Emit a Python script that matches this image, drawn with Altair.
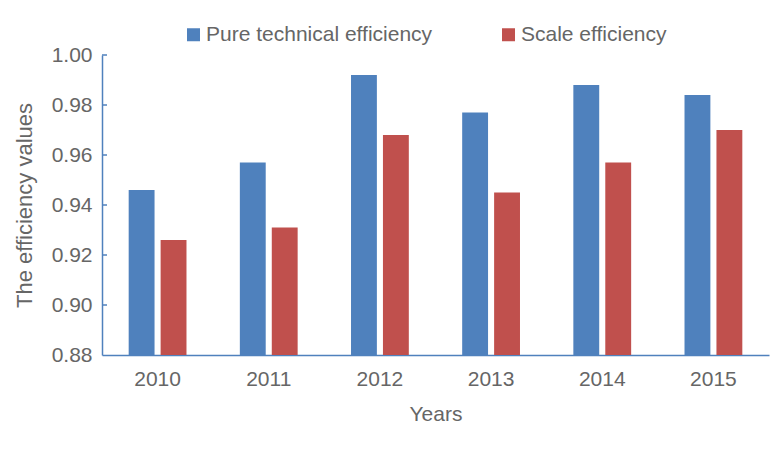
import altair as alt
import pandas as pd

years = ["2010", "2011", "2012", "2013", "2014", "2015"]
pure_technical = [0.946, 0.957, 0.992, 0.977, 0.988, 0.984]
scale_eff = [0.926, 0.931, 0.968, 0.945, 0.957, 0.970]
series_names = ["Pure technical efficiency", "Scale efficiency"]
series_colors = ["#4f81bd", "#c0504d"]
y_ticks = [0.88, 0.90, 0.92, 0.94, 0.96, 0.98, 1.00]

rows = []
for i, yr in enumerate(years):
    rows.append({"year": yr, "series": series_names[0], "value": pure_technical[i]})
    rows.append({"year": yr, "series": series_names[1], "value": scale_eff[i]})
df = pd.DataFrame(rows)
ticks_df = pd.DataFrame({"value": y_ticks[1:]})

FONT = "Liberation Sans"
GRAY = "#666666"
AXIS_BLUE = "#4f81bd"

yscale = alt.Scale(domain=[0.88, 1.0], zero=False, nice=False)
y_axis = alt.Axis(title="The efficiency values", values=y_ticks, format=".2f", grid=False,
                  ticks=False, domainColor=AXIS_BLUE, domainWidth=1.5,
                  labelFontSize=21, labelColor=GRAY, labelFont=FONT, labelPadding=10,
                  titleFontSize=22, titleColor=GRAY, titleFont=FONT,
                  titleFontWeight="normal", titlePadding=15)

bars = alt.Chart(df).mark_bar().encode(
    x=alt.X("year:N", sort=years, scale=alt.Scale(paddingInner=0.48, paddingOuter=0.24),
            axis=alt.Axis(title="Years", labelAngle=0, ticks=False, domainColor=AXIS_BLUE,
                          domainWidth=1.5, labelFontSize=21, labelColor=GRAY, labelFont=FONT,
                          labelPadding=13, titleFontSize=21, titleColor=GRAY, titleFont=FONT,
                          titleFontWeight="normal", titlePadding=14)),
    xOffset=alt.XOffset("series:N", sort=series_names, scale=alt.Scale(paddingInner=0.19)),
    y=alt.Y("value:Q", scale=yscale, axis=y_axis),
    y2=alt.datum(0.88),
    color=alt.Color("series:N", sort=series_names,
                    scale=alt.Scale(domain=series_names, range=series_colors),
                    legend=alt.Legend(orient="none", legendX=81, legendY=-31, direction="horizontal",
                                      title=None, symbolType="square", symbolSize=169,
                                      symbolStrokeWidth=0, labelFontSize=21, labelColor=GRAY,
                                      labelFont=FONT, labelLimit=400, columnPadding=65,
                                      labelOffset=2)),
)

tick_rules = alt.Chart(ticks_df).mark_rule(color=AXIS_BLUE, strokeWidth=1.5).encode(
    y=alt.Y("value:Q", scale=yscale, axis=y_axis),
    x=alt.value(0),
    x2=alt.value(5),
)

chart = alt.layer(bars, tick_rules).properties(
    width=667, height=300,
    autosize=alt.AutoSizeParams(type="none"),
    padding={"left": 94, "top": 47, "right": 3, "bottom": 80},
    background="white",
).configure_view(stroke=None)

chart.save("out.html", embed_options={"renderer": "svg", "actions": False})
